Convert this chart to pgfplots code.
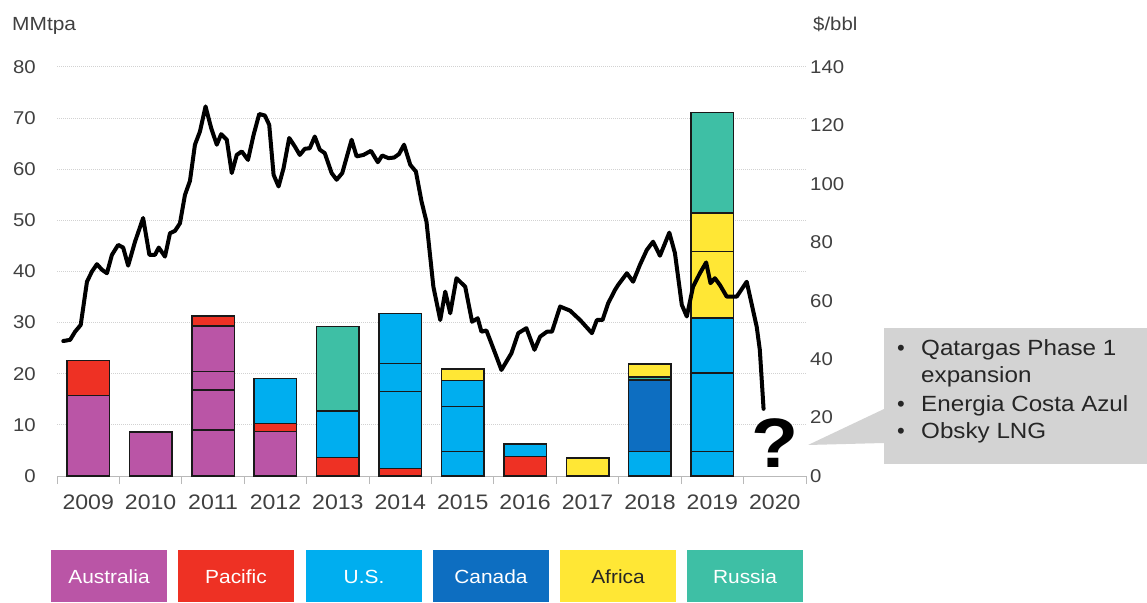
\documentclass[border=0pt]{standalone}
\usepackage{fontspec}
\setmainfont{Liberation Sans}
\usepackage{graphicx}
\usepackage{pgfplots}
\usepackage{pgfplotstable}
\pgfplotsset{compat=1.18}

\definecolor{aus}{HTML}{BA55A6}
\definecolor{pac}{HTML}{EE3124}
\definecolor{usa}{HTML}{00AEEF}
\definecolor{can}{HTML}{0D6EC1}
\definecolor{afr}{HTML}{FFE735}
\definecolor{rus}{HTML}{3EBFA5}
\definecolor{txt}{HTML}{404040}
\definecolor{callout}{HTML}{D3D3D3}

% text in the reference is slightly stretched horizontally
\newcommand{\sx}[1]{\scalebox{1.1}[1]{#1}}

% oil price, $/bbl (x in decimal years)
\pgfplotstableread{
t p
2009.10 46.2
2009.21 46.6
2009.29 49.4
2009.38 51.7
2009.48 66.5
2009.56 70.0
2009.64 72.5
2009.72 70.6
2009.80 69.4
2009.88 75.7
2009.98 79.1
2010.06 78.2
2010.14 72.0
2010.25 80.2
2010.38 88.3
2010.48 75.7
2010.57 75.7
2010.63 78.2
2010.73 75.1
2010.81 83.1
2010.89 83.9
2010.97 86.5
2011.05 96.2
2011.13 101.0
2011.21 113.4
2011.29 117.9
2011.38 126.5
2011.47 119.1
2011.56 113.4
2011.63 117.0
2011.72 115.1
2011.80 103.7
2011.88 109.9
2011.96 111.1
2012.06 108.2
2012.15 116.8
2012.24 123.9
2012.33 123.4
2012.40 120.2
2012.47 103.1
2012.55 99.1
2012.63 105.4
2012.72 115.7
2012.81 112.8
2012.89 109.9
2012.97 112.0
2013.05 112.2
2013.13 116.2
2013.21 111.7
2013.29 110.5
2013.40 103.7
2013.48 101.4
2013.57 103.7
2013.72 115.1
2013.80 109.4
2013.91 109.9
2014.03 111.3
2014.14 107.4
2014.21 109.7
2014.31 108.8
2014.40 109.0
2014.48 110.2
2014.56 113.4
2014.66 106.5
2014.75 104.2
2014.84 94.0
2014.92 87.0
2015.03 64.8
2015.14 53.4
2015.22 63.1
2015.30 55.7
2015.40 67.7
2015.54 64.8
2015.65 52.8
2015.74 54.0
2015.80 49.4
2015.88 49.8
2016.02 42.0
2016.12 36.3
2016.28 42.0
2016.39 48.9
2016.52 50.6
2016.65 43.2
2016.74 47.7
2016.85 49.4
2016.93 49.4
2017.06 58.0
2017.22 56.6
2017.38 53.4
2017.57 48.9
2017.65 53.4
2017.74 53.4
2017.83 59.1
2017.94 63.7
2017.99 65.4
2018.13 69.4
2018.23 66.5
2018.34 72.3
2018.45 77.4
2018.55 80.2
2018.66 75.4
2018.81 83.3
2018.90 76.3
2019.01 58.6
2019.09 54.6
2019.19 64.8
2019.30 69.4
2019.40 73.1
2019.47 66.0
2019.54 67.7
2019.62 65.4
2019.73 61.4
2019.89 61.4
2020.05 66.5
2020.21 51.1
2020.26 43.2
2020.32 23.0
}\brent

\pgfplotsset{
  seg/.style={fill=#1, draw=black!90, line width=1.5pt, bar shift=0pt},
}

\begin{document}
\begin{tikzpicture}[x=1pt,y=1pt]
\path[use as bounding box] (0,0) rectangle (1147,602);

% ---- capacity bars (MMtpa); each bar is drawn from 0 to the cumulative top, topmost layer first
\begin{axis}[
  at={(57pt,126pt)}, anchor=south west,
  scale only axis, width=749pt, height=409pt,
  xmin=-0.5, xmax=11.5, ymin=0, ymax=80,
  ybar, bar width=0.68,
  axis x line=bottom, axis y line=left,
  x axis line style={-, draw=gray!55, line width=1pt},
  y axis line style={draw=none},
  tick align=outside,
  major tick length=0pt, minor tick length=8pt,
  xtick={0,...,11},
  xticklabels={\sx{2009},\sx{2010},\sx{2011},\sx{2012},\sx{2013},\sx{2014},\sx{2015},\sx{2016},\sx{2017},\sx{2018},\sx{2019},\sx{2020}},
  minor xtick={-0.5,0.5,...,11.5},
  major x tick style={draw=none},
  minor x tick style={draw=gray!55, line width=1pt},
  ytick={0,10,...,80},
  yticklabels={\sx{0},\sx{10},\sx{20},\sx{30},\sx{40},\sx{50},\sx{60},\sx{70},\sx{80}},
  ytick style={draw=none},
  ymajorgrids,
  major grid style={draw=gray!35, line width=1pt, densely dotted},
  xticklabel style={font=\fontsize{21}{23}\selectfont, text=txt, anchor=center, inner sep=0pt, yshift=-26pt},
  yticklabel style={font=\fontsize{18.5}{20}\selectfont, text=txt, anchor=east, inner sep=0pt, xshift=-21pt},
]
% level 6
\addplot[seg=rus] coordinates {(10,71.1)};
% level 5
\addplot[seg=pac] coordinates {(2,31.3)};
\addplot[seg=afr] coordinates {(10,51.4)};
% level 4
\addplot[seg=aus] coordinates {(2,29.3)};
\addplot[seg=usa] coordinates {(5,31.8)};
\addplot[seg=afr] coordinates {(6,20.9) (9,21.9) (10,43.9)};
% level 3
\addplot[seg=aus] coordinates {(2,20.4)};
\addplot[seg=usa] coordinates {(3,19.1) (5,22.0) (6,18.7) (10,30.9)};
\addplot[seg=rus] coordinates {(4,29.2) (9,19.4)};
% level 2
\addplot[seg=pac] coordinates {(0,22.6) (3,10.3)};
\addplot[seg=aus] coordinates {(2,16.8)};
\addplot[seg=usa] coordinates {(4,12.7) (5,16.5) (6,13.6) (7,6.3) (10,20.1)};
\addplot[seg=can] coordinates {(9,18.8)};
% level 1
\addplot[seg=aus] coordinates {(0,15.7) (1,8.6) (2,9.0) (3,8.7)};
\addplot[seg=pac] coordinates {(4,3.6) (5,1.5) (7,3.8)};
\addplot[seg=usa] coordinates {(6,4.8) (9,4.8) (10,4.8)};
\addplot[seg=afr] coordinates {(8,3.5)};
\end{axis}

% ---- oil price ($/bbl) on the right axis
\begin{axis}[
  at={(57pt,126pt)}, anchor=south west,
  scale only axis, width=749pt, height=409pt,
  xmin=2009, xmax=2021, ymin=0, ymax=140,
  axis x line=none, axis y line=right,
  y axis line style={draw=none},
  xtick=\empty,
  ytick={0,20,...,140},
  yticklabels={\sx{0},\sx{20},\sx{40},\sx{60},\sx{80},\sx{100},\sx{120},\sx{140}},
  ytick style={draw=none},
  major tick length=0pt,
  yticklabel style={font=\fontsize{18.5}{20}\selectfont, text=txt, anchor=west, inner sep=0pt, xshift=4pt},
]
\addplot[black, line width=4pt, line join=round, line cap=round] table[x=t, y=p] {\brent};
\end{axis}

% axis titles
\node[font=\fontsize{19}{20}\selectfont, text=txt, anchor=base west, inner sep=0pt] at (12,571) {\sx{MMtpa}};
\node[font=\fontsize{18.5}{20}\selectfont, text=txt, anchor=base west, inner sep=0pt] at (813,571) {\sx{\$/bbl}};

% question mark for 2020
\node[font=\fontsize{70}{70}\selectfont\bfseries, text=black, inner sep=0pt] at (775,159) {\scalebox{1.1}[1]{?}};

% callout
\fill[callout] (884,138) rectangle (1147,274);
\fill[callout] (884,193) -- (808,157) -- (884,159) -- cycle;
\begin{scope}[every node/.style={font=\fontsize{22}{24}\selectfont, text=black!85, anchor=base west, inner sep=0pt}]
\node at (897,246) {•};
\node at (921,246) {\sx{Qatargas Phase 1}};
\node at (921,219) {\sx{expansion}};
\node at (897,190) {•};
\node at (921,190) {\sx{Energia Costa Azul}};
\node at (897,163) {•};
\node at (921,163) {\sx{Obsky LNG}};
\end{scope}

% legend boxes
\begin{scope}[every node/.style={font=\fontsize{19}{20}\selectfont, inner sep=0pt}]
\fill[aus] (51,0) rectangle (167,52);  \node[text=white] at (109,25) {\sx{Australia}};
\fill[pac] (178,0) rectangle (294,52); \node[text=white] at (236,25) {\sx{Pacific}};
\fill[usa] (306,0) rectangle (422,52); \node[text=white] at (364,25) {\sx{U.S.}};
\fill[can] (433,0) rectangle (549,52); \node[text=white] at (491,25) {\sx{Canada}};
\fill[afr] (560,0) rectangle (676,52); \node[text=black!85] at (618,25) {\sx{Africa}};
\fill[rus] (687,0) rectangle (803,52); \node[text=white] at (745,25) {\sx{Russia}};
\end{scope}
\end{tikzpicture}
\end{document}
